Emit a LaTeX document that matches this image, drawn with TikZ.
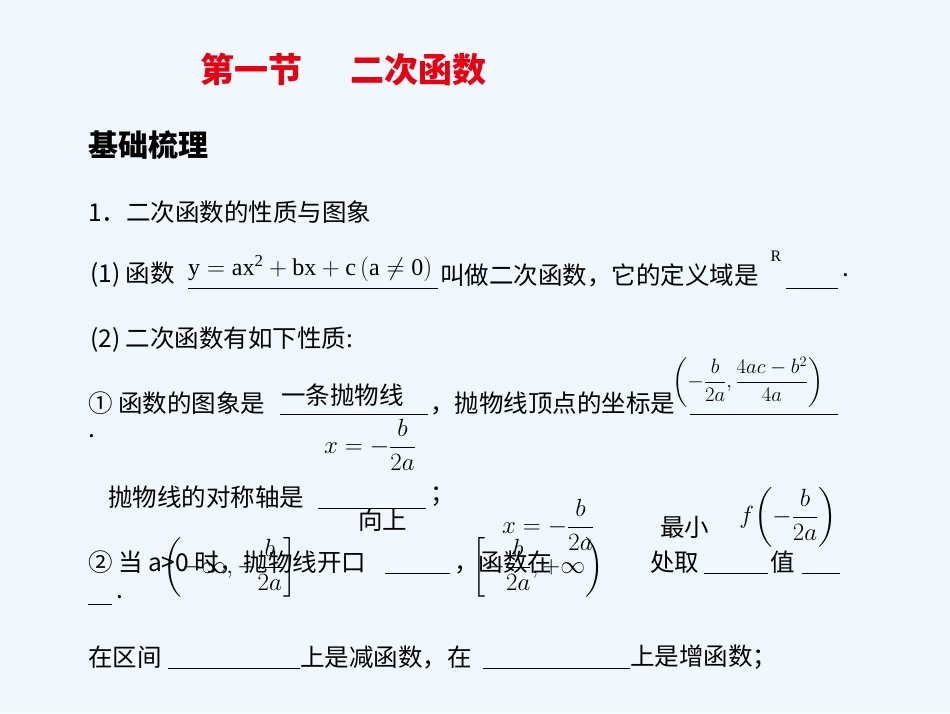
\documentclass[tikz,border=0pt]{standalone}
\usepackage{amsmath}
\usepackage{fontspec}
\setmainfont{Liberation Serif}
\newfontfamily\cjk{Noto Sans CJK SC}
\begin{document}
\begin{tikzpicture}[x=1pt,y=-1pt,
  t/.style={anchor=west,inner sep=0,font=\cjk\fontsize{24.5}{26}\selectfont},
  m/.style={anchor=center,inner sep=0,font=\fontsize{27}{29}\selectfont},
  ul/.style={line width=1pt}]
\fill[fill={rgb,255:red,240;green,247;blue,253}] (0,0) rectangle (950,713);
\useasboundingbox (0,0) rectangle (950,713);
\node[t,font=\cjk\bfseries\fontsize{34}{36}\selectfont,text={rgb,255:red,230;green,0;blue,18}] (title) at (200,70) {第一节\hspace{48pt}二次函数};
\node[t,font=\cjk\bfseries\fontsize{30}{32}\selectfont] (h) at (88,145) {基础梳理};
\node[t] (l1) at (88,212) {1．二次函数的性质与图象};
\node[t] (l2) at (90,275) {(1) 函数};
\node[m,anchor=west,font=\fontsize{24}{26}\selectfont] (f) at (188,269) {$\mathrm{y=ax^2+bx+c\,(a\neq0)}$};
\draw[ul] (188,288) -- (438,288);
\node[t] (l2b) at (440,275) {叫做二次函数，它的定义域是};
\draw[ul] (786,288) -- (838,288);
\node[t] (dot1) at (842,275) {.};
\node[m,font=\fontsize{16}{16}\selectfont] (R) at (776,256) {R};
\node[t] (l3) at (90,340) {(2) 二次函数有如下性质:};
\node[t] (l4) at (88,403) {① 函数的图象是};
\node[t] (ans1) at (281,395) {一条抛物线};
\draw[ul] (280,414) -- (428,414);
\node[t] (l4b) at (430,403) {，抛物线顶点的坐标是};
\draw[ul] (690,414) -- (838,414);
\node[m,font=\fontsize{22}{24}\selectfont] (vert) at (748,382) {$\left(-\dfrac{b}{2a},\dfrac{4ac-b^2}{4a}\right)$};
\node[t] (dot2) at (88,436) {.};
\node[m] (axis) at (370,445) {$x=-\dfrac{b}{2a}$};
\node[t] (l5) at (108,497) {抛物线的对称轴是};
\draw[ul] (318,508) -- (426,508);
\node[t] (semi) at (430,497) {；};
\node[t] (up) at (358,520) {向上};
\node[m] (xv) at (548,525) {$x=-\dfrac{b}{2a}$};
\node[t] (min) at (660,527) {最小};
\node[m] (fv) at (788,517) {$f\!\left(-\dfrac{b}{2a}\right)$};
\node[t] (l6) at (88,562) {② 当 a>0 时，抛物线开口};
\draw[ul] (385,573) -- (450,573);
\node[t] (c6) at (454,562) {，函数在};
\node[m,font=\fontsize{23}{25}\selectfont] (i1) at (230,567) {$\left(-\infty,-\dfrac{b}{2a}\right]$};
\node[m,font=\fontsize{23}{25}\selectfont] (i2) at (538,567) {$\left[-\dfrac{b}{2a},+\infty\right)$};
\node[t] (l6b) at (650,562) {处取};
\draw[ul] (704,573) -- (768,573);
\node[t] (l6c) at (770,562) {值};
\draw[ul] (802,573) -- (840,573);
\draw[ul] (88,604) -- (112,604);
\node[t] (dot3) at (116,597) {.};
\node[t] (l7) at (88,657) {在区间};
\draw[ul] (168,668) -- (300,668);
\node[t] (l7b) at (300,657) {上是减函数，在};
\draw[ul] (483,668) -- (630,668);
\node[t] (l7c) at (630,657) {上是增函数；};
\end{tikzpicture}
\end{document}
